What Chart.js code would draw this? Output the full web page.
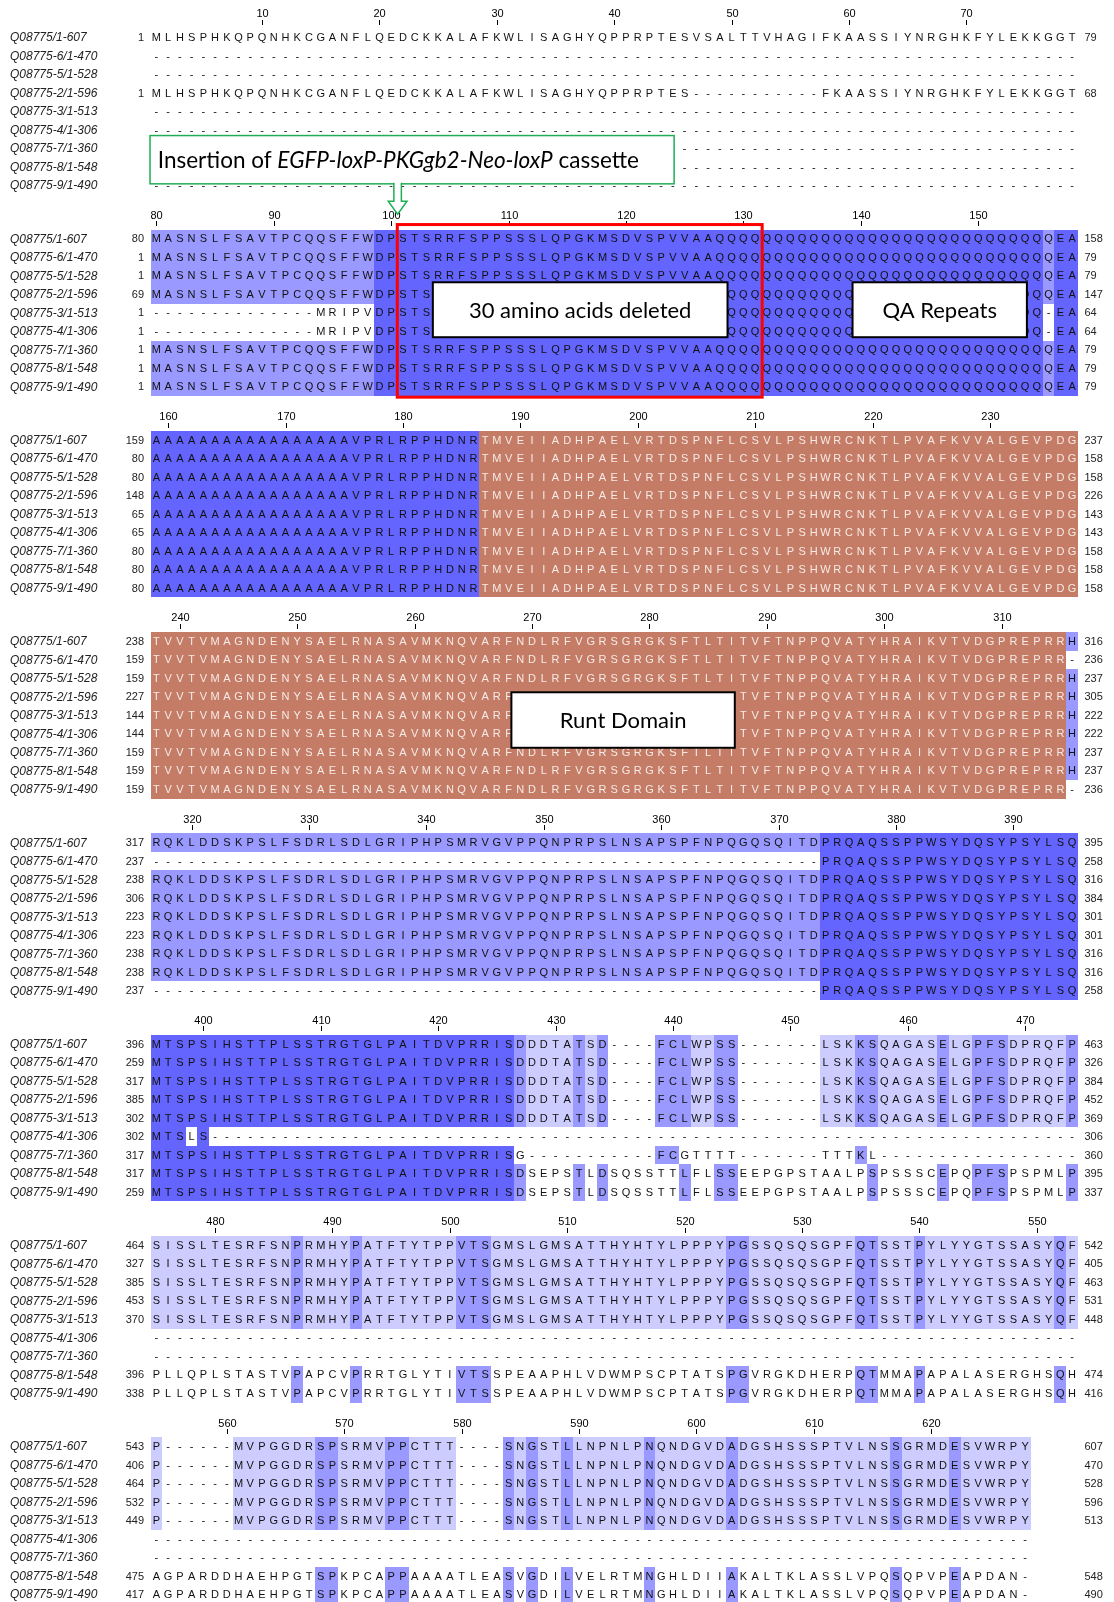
<!DOCTYPE html>
<html lang="en">
<head>
<meta charset="utf-8">
<title>Q08775 isoform alignment</title>
<script src="https://cdn.jsdelivr.net/npm/chart.js@4.4.1/dist/chart.umd.min.js"></script>
<style>
  html, body { margin: 0; padding: 0; background: #ffffff; }
  canvas { display: block; }
</style>
</head>
<body>
<canvas id="alignmentChart" width="1114" height="1602"></canvas>
<script>
const seqNames = [
  'Q08775/1-607', 'Q08775-6/1-470', 'Q08775-5/1-528', 'Q08775-2/1-596', 'Q08775-3/1-513',
  'Q08775-4/1-306', 'Q08775-7/1-360', 'Q08775-8/1-548', 'Q08775-9/1-490',
];

// first alignment column of each wrapped block
const blockStarts = [1, 80, 159, 238, 317, 396, 475, 554];

const gapRow79 = '----------' + '----------' + '----------' + '----------' + '----------' + '----------' + '----------' + '---------';
const gapRow75 = '----------' + '----------' + '----------' + '----------' + '----------' + '----------' + '----------' + '-----';

// block 1: columns 1-79
const b1Full = 'MLHSPHKQPQNHKCGANFLQEDCKKALAFKWLISAGHYQPPRPTESVSALTTVHAGIFKAASSIYNRGHKFYLEKKGGT';
const b1Iso2 = 'MLHSPHKQPQNHKCGANFLQEDCKKALAFKWLISAGHYQPPRPTES' + '----------' + '-' + 'FKAASSIYNRGHKFYLEKKGGT';
const block1 = [b1Full, gapRow79, gapRow79, b1Iso2, gapRow79, gapRow79, gapRow79, gapRow79, gapRow79];

// block 2: columns 80-158
const b2Full = 'MASNSLFSAVTPCQQSFFWDPSTSRRFSPPSSSLQPGKMSDVSPVVAA' + 'QQQQQQQQQQ' + 'QQQQQQQQQQ' + 'QQQQQQQQQ' + 'EA';
const b2Short = '----------' + '----' + 'MRIPVDPSTSRRFSPPSSSLQPGKMSDVSPVVAA' + 'QQQQQQQQQQ' + 'QQQQQQQQQQ' + 'QQQQQQQQ' + '-' + 'EA';
const block2 = [b2Full, b2Full, b2Full, b2Full, b2Short, b2Short, b2Full, b2Full, b2Full];

// block 3: columns 159-237
const b3All = 'AAAAAAAAAA' + 'AAAAAAA' + 'VPRLRPPHDNR' + 'TMVEIIADHPAELVRTDSPNFLCSVLPSHWRCNKTLPVAFKVVALGEVPDG';
const block3 = [b3All, b3All, b3All, b3All, b3All, b3All, b3All, b3All, b3All];

// block 4: columns 238-316
const b4Full = 'TVVTVMAGNDENYSAELRNASAVMKNQVARFNDLRFVGRSGRGKSFTLTITVFTNPPQVATYHRAIKVTVDGPREPRR' + 'H';
const b4Short = 'TVVTVMAGNDENYSAELRNASAVMKNQVARFNDLRFVGRSGRGKSFTLTITVFTNPPQVATYHRAIKVTVDGPREPRR' + '-';
const block4 = [b4Full, b4Short, b4Full, b4Full, b4Full, b4Full, b4Full, b4Full, b4Short];

// block 5: columns 317-395
const b5Full = 'RQKLDDSKPSLFSDRLSDLGRIPHPSMRVGVPPQNPRPSLNSAPSPFNPQGQSQITD' + 'PRQAQSSPPWSYDQSYPSYLSQ';
const b5Short = '----------' + '----------' + '----------' + '----------' + '----------' + '-------' + 'PRQAQSSPPWSYDQSYPSYLSQ';
const block5 = [b5Full, b5Short, b5Full, b5Full, b5Full, b5Full, b5Full, b5Full, b5Short];

// block 6: columns 396-474
const b6Full = 'MTSPSIHSTTPLSSTRGTGLPAITDVPRRIS' + 'DDDTATSD' + '----' + 'FCLWPSS' + '-------' + 'LSKKSQAGASELGPFSDPRQFP';
const b6Iso4 = 'MTSLS' + '----------' + '----------' + '----------' + '----------' + '----------' + '----------' + '----------' + '----';
const b6Iso7 = 'MTSPSIHSTTPLSSTRGTGLPAITDVPRRIS' + 'G' + '----------' + '-' + 'FCGTTTT' + '-------' + 'TTTKL' + '----------' + '-------';
const b6Iso8 = 'MTSPSIHSTTPLSSTRGTGLPAITDVPRRIS' + 'DSEPSTLDSQSSTTLFLSSEEPGPSTAALPSPSSSCEPQPFSPSPMLP';
const block6 = [b6Full, b6Full, b6Full, b6Full, b6Full, b6Iso4, b6Iso7, b6Iso8, b6Iso8];

// block 7: columns 475-553
const b7Full = 'SISSLTESRFSNPRMHYPATFTYTPPVTSGMSLGMSATTHYHTYLPPPYPGSSQSQSGPFQTSSTPYLYYGTSSASYQF';
const b7Iso8 = 'PLLQPLSTASTVPAPCVPRRTGLYTIVTSSPEAAPHLVDWMPSCPTATSPGVRGKDHERPQTMMAPAPALASERGHSQH';
const block7 = [b7Full, b7Full, b7Full, b7Full, b7Full, gapRow79, gapRow79, b7Iso8, b7Iso8];

// block 8: columns 554-628
const b8Full = 'P' + '------' + 'MVPGGDRSPSRMVPPCTTT' + '----' + 'SNGSTLLNPNLPNQNDGVDADGSHSSSPTVLNSSGRMDESVWRPY';
const b8Iso8 = 'AGPARDDHAEHPGTSPKPCAPPAAAATLEASVGDILVELRTMNGHLDIIAKALTKLASSLVPQSQPVPEAPDAN' + '-';
const block8 = [b8Full, b8Full, b8Full, b8Full, b8Full, gapRow75, gapRow75, b8Iso8, b8Iso8];

// Runt domain feature, alignment columns
const runtDomainCols = [187, 315];

const boxLabels = ['30 amino acids deleted', 'QA Repeats', 'Runt Domain'];
const insertionLabel = ['Insertion of ', 'EGFP-loxP-PKGgb2-Neo-loxP', ' cassette'];

const blocks = [block1, block2, block3, block4, block5, block6, block7, block8];

// sanity checks on the typed alignment
blocks.forEach((rows, b) => {
  const width = rows[0].length;
  rows.forEach((s, r) => {
    if (s.length !== width) throw new Error(`block ${b + 1} row ${r + 1}: length ${s.length}, expected ${width}`);
  });
  if (b < blocks.length - 1 && blockStarts[b] + width !== blockStarts[b + 1]) {
    throw new Error(`block ${b + 1} width ${width} does not reach column ${blockStarts[b + 1]}`);
  }
});
seqNames.forEach((name, r) => {
  const expected = Number(name.split('-').pop());
  const count = blocks.reduce((n, rows) => n + rows[r].replace(/-/g, '').length, 0);
  if (count !== expected) throw new Error(`${name}: ${count} residues, expected ${expected}`);
});

// ---- layout (pixels of the 1114 x 1602 picture) ----
const CANVAS_W = 1114;
const CANVAS_H = 1602;
const COL_LEFT = 150.5;
const COL_W = 11.74;
const FIRST_ROW = 37.5;
const ROW_H = 18.5;
const BLOCK_GAP = 201.3;
const ROWS_PER_BLOCK = BLOCK_GAP / ROW_H;

const SHADES = ['#6464ff', '#9999ff', '#ccccff'];
const RUNT_COLOR = '#c47c66';
const RUNT_TEXT = '#f6ebe6';
const SEQ_FONT = '11px "Liberation Sans", Arial, sans-serif';
const NAME_FONT = 'italic 12px "Liberation Sans", Arial, sans-serif';
const BOX_FONT = '22px Lato, "Open Sans", sans-serif';
const CALLOUT_SIZE = 22.5;

const annotationLayout = {
  redBox: { block: 1, x0: 21.02, x1: 52.1, y0: -0.77, y1: 8.56 },
  boxes: [
    { block: 1, x0: 24.05, x1: 49.15, y0: 2.35, y1: 5.32 },
    { block: 1, x0: 59.8, x1: 74.65, y0: 2.35, y1: 5.32 },
    { block: 3, x0: 30.74, x1: 49.77, y0: 2.75, y1: 5.75 },
  ],
  greenBox: { block: 0, x0: -0.04, x1: 44.6, y0: 5.3, y1: 7.91, textX: 0.62 },
  arrow: { cx: 21.05, stemHalf: 0.32, headHalf: 0.8, headStart: 8.85, tip: 9.55 },
};

function columnShade(rows, c) {
  const counts = {};
  rows.forEach(s => {
    const ch = s[c];
    if (ch !== '-') counts[ch] = (counts[ch] || 0) + 1;
  });
  let best = null;
  let bestCount = 0;
  Object.entries(counts).forEach(([ch, n]) => {
    if (n > bestCount) { best = ch; bestCount = n; }
  });
  const pid = bestCount / rows.length * 100;
  const color = pid > 80 ? SHADES[0] : pid > 60 ? SHADES[1] : pid > 40 ? SHADES[2] : null;
  return { residue: best, color };
}

const residuePoints = [];
blocks.forEach((rows, b) => {
  rows.forEach((s, r) => {
    for (let c = 0; c < s.length; c++) {
      if (s[c] !== '-') residuePoints.push({ x: c + 0.5, y: b * ROWS_PER_BLOCK + r });
    }
  });
});

const alignmentPlugin = {
  id: 'alignmentPlugin',
  beforeDraw(chart) {
    const { ctx } = chart;
    ctx.save();
    ctx.fillStyle = '#ffffff';
    ctx.fillRect(0, 0, chart.width, chart.height);
    ctx.restore();
  },
  afterDatasetsDraw(chart) {
    const { ctx } = chart;
    const xs = chart.scales.x;
    const ys = chart.scales.y;
    const px = v => xs.getPixelForValue(v);
    const py = v => ys.getPixelForValue(v);
    const residueNo = seqNames.map(() => 0);

    ctx.save();
    blocks.forEach((rows, b) => {
      const base = b * ROWS_PER_BLOCK;
      const width = rows[0].length;
      const shades = [];
      for (let c = 0; c < width; c++) shades.push(columnShade(rows, c));

      // column ruler
      ctx.font = SEQ_FONT;
      ctx.fillStyle = '#000';
      ctx.strokeStyle = '#000';
      ctx.lineWidth = 1;
      ctx.textAlign = 'center';
      ctx.textBaseline = 'middle';
      for (let c = 0; c < width; c++) {
        const col = blockStarts[b] + c;
        if (col % 10 !== 0) continue;
        const x = Math.round(px(c + 0.5)) + 0.5;
        ctx.fillText(String(col), x, py(base - 1.25));
        ctx.beginPath();
        ctx.moveTo(x, Math.round(py(base - 0.95)));
        ctx.lineTo(x, Math.round(py(base - 0.68)));
        ctx.stroke();
      }

      rows.forEach((s, r) => {
        const yv = base + r;
        const yTop = Math.round(py(yv - 0.5));
        const yBot = Math.round(py(yv + 0.5));
        const yMid = py(yv);

        // cell backgrounds
        for (let c = 0; c < width; c++) {
          const ch = s[c];
          if (ch === '-') continue;
          const col = blockStarts[b] + c;
          let fill = null;
          if (col >= runtDomainCols[0] && col <= runtDomainCols[1]) fill = RUNT_COLOR;
          else if (shades[c].color && shades[c].residue === ch) fill = shades[c].color;
          if (!fill) continue;
          const x0 = Math.round(px(c));
          const x1 = Math.round(px(c + 1));
          ctx.fillStyle = fill;
          ctx.fillRect(x0, yTop, x1 - x0, yBot - yTop);
        }

        // letters
        ctx.font = SEQ_FONT;
        ctx.textAlign = 'center';
        ctx.textBaseline = 'middle';
        let first = null;
        let last = null;
        for (let c = 0; c < width; c++) {
          const ch = s[c];
          const col = blockStarts[b] + c;
          if (ch !== '-') {
            residueNo[r] += 1;
            if (first === null) first = residueNo[r];
            last = residueNo[r];
          }
          const inRunt = ch !== '-' && col >= runtDomainCols[0] && col <= runtDomainCols[1];
          ctx.fillStyle = inRunt ? RUNT_TEXT : '#111';
          ctx.fillText(ch, px(c + 0.5), yMid + 0.5);
        }

        // sequence name and residue numbers
        ctx.fillStyle = '#222';
        ctx.font = NAME_FONT;
        ctx.textAlign = 'left';
        ctx.fillText(seqNames[r], px(-11.97), yMid + 0.5);
        if (first !== null) {
          ctx.font = SEQ_FONT;
          ctx.textAlign = 'right';
          ctx.fillText(String(first), px(-0.55), yMid + 0.5);
          ctx.textAlign = 'left';
          ctx.fillText(String(last), px(79.55), yMid + 0.5);
        }
      });
    });

    const boxRect = a => {
      const base = a.block * ROWS_PER_BLOCK;
      const left = px(a.x0);
      const top = py(base + a.y0);
      return { left, top, w: px(a.x1) - left, h: py(base + a.y1) - top };
    };

    // deleted-region frame
    const red = boxRect(annotationLayout.redBox);
    ctx.strokeStyle = '#ff0000';
    ctx.lineWidth = 3;
    ctx.strokeRect(red.left, red.top, red.w, red.h);

    // label boxes
    annotationLayout.boxes.forEach((a, i) => {
      const rc = boxRect(a);
      ctx.fillStyle = '#ffffff';
      ctx.fillRect(rc.left, rc.top, rc.w, rc.h);
      ctx.strokeStyle = '#000000';
      ctx.lineWidth = 2;
      ctx.strokeRect(rc.left, rc.top, rc.w, rc.h);
      ctx.fillStyle = '#000000';
      ctx.font = BOX_FONT;
      ctx.textAlign = 'center';
      ctx.textBaseline = 'middle';
      ctx.fillText(boxLabels[i], rc.left + rc.w / 2, rc.top + rc.h / 2 + 1);
    });

    // insertion callout
    const g = annotationLayout.greenBox;
    const gr = boxRect(g);
    ctx.fillStyle = '#ffffff';
    ctx.fillRect(gr.left, gr.top, gr.w, gr.h);
    ctx.strokeStyle = '#1fae55';
    ctx.lineWidth = 1.5;
    ctx.strokeRect(gr.left, gr.top, gr.w, gr.h);

    const ar = annotationLayout.arrow;
    const gBottom = g.y1;
    ctx.beginPath();
    ctx.moveTo(px(ar.cx - ar.stemHalf), py(gBottom) - 1);
    ctx.lineTo(px(ar.cx - ar.stemHalf), py(ar.headStart));
    ctx.lineTo(px(ar.cx - ar.headHalf), py(ar.headStart));
    ctx.lineTo(px(ar.cx), py(ar.tip));
    ctx.lineTo(px(ar.cx + ar.headHalf), py(ar.headStart));
    ctx.lineTo(px(ar.cx + ar.stemHalf), py(ar.headStart));
    ctx.lineTo(px(ar.cx + ar.stemHalf), py(gBottom) - 1);
    ctx.fillStyle = '#ffffff';
    ctx.fill();
    ctx.stroke();

    ctx.fillStyle = '#000000';
    ctx.textAlign = 'left';
    ctx.textBaseline = 'middle';
    let tx = px(g.textX);
    const ty = gr.top + gr.h / 2 + 1;
    insertionLabel.forEach((part, i) => {
      ctx.font = (i === 1 ? 'italic ' : '') + CALLOUT_SIZE + 'px Lato, "Open Sans", sans-serif';
      ctx.fillText(part, tx, ty);
      tx += ctx.measureText(part).width;
    });

    ctx.restore();
  },
};

new Chart(document.getElementById('alignmentChart'), {
  type: 'scatter',
  data: {
    datasets: [{
      label: 'residues',
      data: residuePoints,
      pointRadius: 0,
      pointHoverRadius: 0,
    }],
  },
  options: {
    responsive: false,
    animation: false,
    devicePixelRatio: 1,
    events: [],
    layout: { padding: 0 },
    plugins: { legend: { display: false }, tooltip: { enabled: false } },
    scales: {
      x: { type: 'linear', display: false, min: -COL_LEFT / COL_W, max: (CANVAS_W - COL_LEFT) / COL_W },
      y: { type: 'linear', display: false, reverse: true, min: -FIRST_ROW / ROW_H, max: (CANVAS_H - FIRST_ROW) / ROW_H },
    },
  },
  plugins: [alignmentPlugin],
});
</script>
</body>
</html>
